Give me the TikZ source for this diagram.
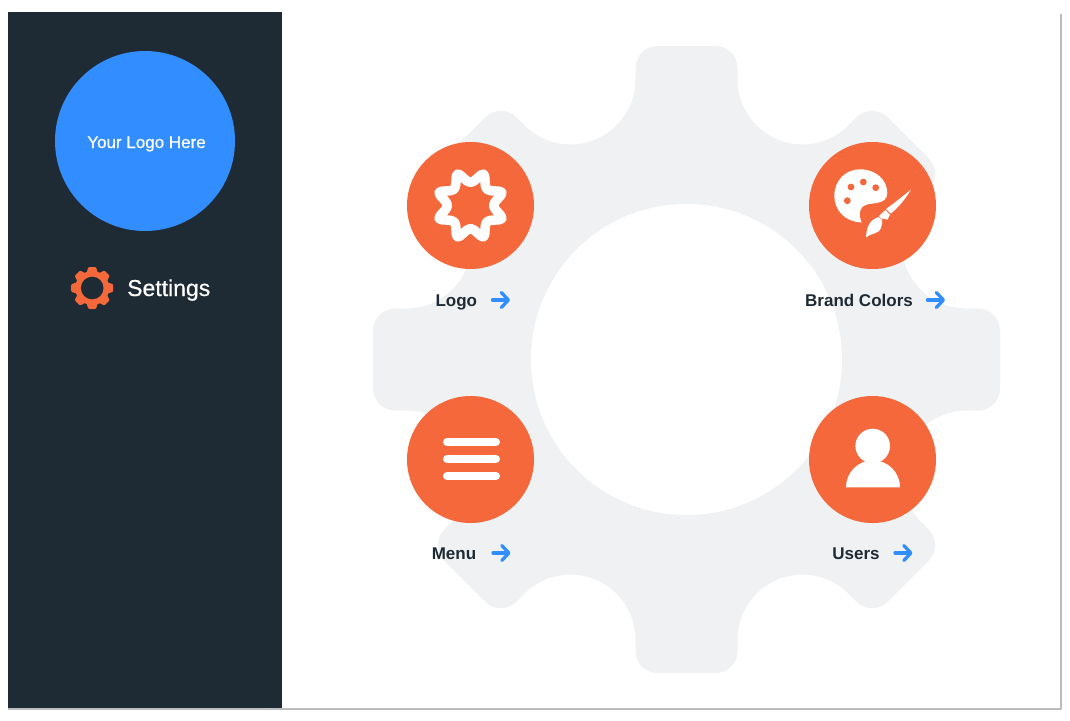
\documentclass[tikz,border=0pt]{standalone}
\usepackage{fontspec}
\setmainfont{Liberation Sans}
\newfontfamily\mediumfont[FakeBold=0.5]{Liberation Sans}
\usetikzlibrary{arrows.meta,positioning,calc}
\definecolor{sidebar}{HTML}{1F2B34}
\definecolor{accent}{HTML}{F4683C}
\definecolor{brandblue}{HTML}{328EFF}
\definecolor{gearbg}{HTML}{F0F1F3}
\definecolor{framegray}{HTML}{BDBDBD}
\begin{document}
\begin{tikzpicture}[x=1pt,y=1pt]
\tikzset{
  badge/.style     = {circle, fill=accent, minimum size=127pt, inner sep=0pt},
  itemlabel/.style = {font=\fontsize{17}{20}\selectfont\bfseries, text=sidebar, inner sep=0pt, anchor=base},
  go/.style        = {draw=brandblue, line width=3.3pt, line cap=round,
                      -{Straight Barb[round,length=7pt,width=15pt]}},
  icon/.style      = {fill=white, draw=none}
}
\useasboundingbox (0,-720) rectangle (1070,0);
\fill[white] (0,-720) rectangle (1070,0);
% page frame and sidebar
\fill[framegray] (8,-709.7) rectangle (1061.7,-14);
\fill[white] (8,-708) rectangle (1060,-12);
\fill[sidebar] (8,-708) rectangle (282,-12);
\node[circle, fill=brandblue, minimum size=180pt, inner sep=0pt] (logocircle) at (145,-141) {};
\node[text=white, font=\mediumfont\fontsize{17}{20}\selectfont, anchor=base, inner sep=0pt] (logotext) at (146.5,-148) {Your Logo Here};

% small gear
\coordinate (smallgear) at (92.2,-288);
\fill[accent] (smallgear) circle (17pt);
\foreach \a in {0,45,...,315}
  \fill[accent, shift={(smallgear)}, rotate=\a, rounded corners=1pt]
    (-6,14) -- (-3.8,21) -- (3.8,21) -- (6,14) -- cycle;
\fill[sidebar] (smallgear) circle (11.3pt);
\node[text=white, font=\mediumfont\fontsize{23}{26}\selectfont, anchor=base west, inner sep=0pt] (settings) at (127,-296) {Settings};

% big gear
\coordinate (gearcentre) at (686.5,-359.5);
\fill[gearbg] ($(gearcentre)+(-51,280.05)$)
  \foreach \a in {0,45,...,315} {
    -- ++(90-\a:11.45)
    arc[start angle=180-\a, delta angle=-90, radius=22]
    -- ++(-\a:58)
    arc[start angle=90-\a, delta angle=-90, radius=22]
    -- ++(-90-\a:11.45)
    arc[start angle=180-\a, delta angle=135, radius=65]
  } -- cycle;
\fill[white] (gearcentre) circle (155.5pt);

% badges
\node[badge] (logo) at (470.5,-205.5) {};
\node[badge] (colors) at (872.5,-205.5) {};
\node[badge] (menu) at (470.5,-459.5) {};
\node[badge] (users) at (872.5,-459.5) {};

% logo icon
\draw[white, line width=9.5pt, line join=round]
  plot[smooth cycle, tension=0.6, shift={(logo.center)}] coordinates {
    (22.5:34) (45:23) (67.5:34) (90:23) (112.5:34) (135:23) (157.5:34) (180:23)
    (202.5:34) (225:23) (247.5:34) (270:23) (292.5:34) (315:23) (337.5:34) (360:23)};

% palette icon
\fill[icon] (861.5,-222.5) .. controls (845,-222) and (834.3,-210) .. (834.3,-196)
  .. controls (834.3,-180) and (846,-169.3) .. (860,-169.3)
  .. controls (876,-169.3) and (887.3,-180) .. (887.3,-193)
  .. controls (887.3,-199) and (883,-202) .. (877,-203)
  .. controls (870,-204) and (862,-204) .. (860.5,-210)
  .. controls (859,-214) and (860,-218) .. (861.5,-222.5) -- cycle;
\foreach \x/\y in {851/-187, 863.3/-182, 875.7/-187.7, 847.3/-200.7}
  \fill[accent] (\x,\y) circle (3.4pt);

% brush
\fill[icon] (911,-189.5) .. controls (906,-198) and (899,-207) .. (890.8,-213.5)
  -- (886,-209) .. controls (893,-204) and (902,-197) .. (911,-189.5) -- cycle;
\fill[icon] (885.3,-210) -- (890,-214.5) -- (887.5,-219.5) -- (881,-218.5) -- (879,-216) -- cycle;
\fill[icon] (878.5,-217) .. controls (872,-219) and (866.5,-224) .. (866,-237.5)
  .. controls (870,-233) and (878,-235) .. (881,-228)
  .. controls (882,-225) and (882.5,-222) .. (882,-220) -- cycle;

% menu icon
\foreach \y in {-442,-459,-476}
  \draw[white, line width=8pt, line cap=round] (447,\y) -- (496,\y);

% user icon
\fill[icon] (872.7,-446) circle (17.3pt);
\fill[icon] (846,-487.3) arc[start angle=180, end angle=0, radius=27] -- cycle;

% labels
\node[itemlabel] (logolabel) at (456.3,-306) {Logo};
\node[itemlabel] (colorslabel) at (859,-306) {Brand Colors};
\node[itemlabel] (menulabel) at (454,-559) {Menu};
\node[itemlabel] (userslabel) at (856,-559) {Users};

% arrows
\coordinate (logoarrow) at (510,-300);
\coordinate (colorsarrow) at (945,-300);
\coordinate (menuarrow) at (510.5,-553);
\coordinate (usersarrow) at (912.5,-553);
\draw[go] ([xshift=-17.5pt]logoarrow) -- (logoarrow);
\draw[go] ([xshift=-17.5pt]colorsarrow) -- (colorsarrow);
\draw[go] ([xshift=-17.5pt]menuarrow) -- (menuarrow);
\draw[go] ([xshift=-17.5pt]usersarrow) -- (usersarrow);
\end{tikzpicture}
\end{document}
